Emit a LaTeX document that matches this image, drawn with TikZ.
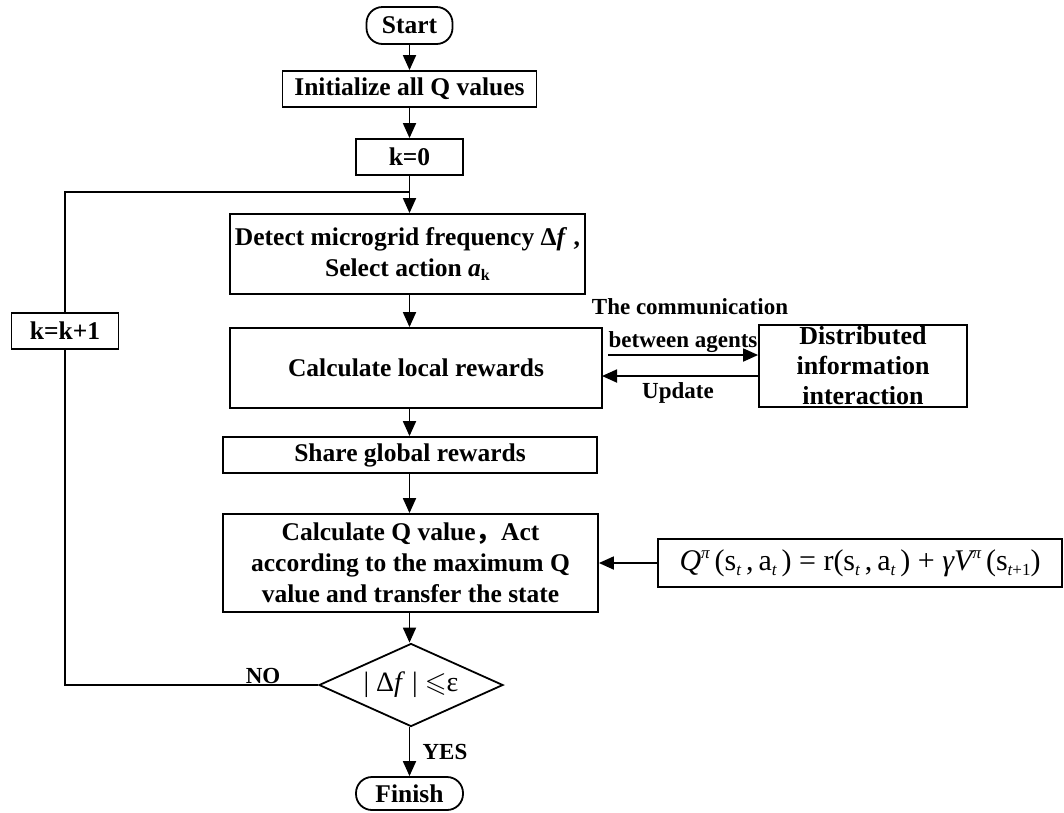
\documentclass[tikz,border=0pt]{standalone}
\usepackage{fontspec}
\usepackage{amssymb}
\setmainfont{Liberation Serif}
\newfontfamily\cjk{Noto Sans CJK SC}
\usetikzlibrary{arrows.meta,shapes.geometric,calc}

% text sizes
\newcommand\bigtxt{\fontsize{25.5}{31}\selectfont\bfseries}
\newcommand\lbltxt{\fontsize{23}{30}\selectfont\bfseries}
\newcommand\disttxt{\fontsize{26}{30}\selectfont\bfseries}
% small raised / lowered indices for the formula
\newcommand\fsub[1]{\raisebox{-0.35ex}{\fontsize{17}{17}\selectfont\itshape #1}}
\newcommand\fsup[1]{\raisebox{0.85ex}{\fontsize{17}{17}\selectfont\itshape #1}}
\newcommand\bsub[1]{\raisebox{-0.35ex}{\fontsize{16}{16}\selectfont\bfseries #1}}

\begin{document}
\begin{tikzpicture}[x=1pt,y=-1pt,
  line width=1.8pt,
  every node/.style={inner sep=0pt, align=center},
  box/.style={draw, rectangle, font=\bigtxt},
  term/.style={draw, rectangle, rounded corners=16pt, font=\bigtxt},
  decision/.style={draw, diamond, aspect=2.2, font=\fontsize{28}{28}\selectfont},
  arr/.style={-{Triangle[length=15pt,width=13pt]}},
  lbl/.style={font=\lbltxt}
]
\useasboundingbox (0,0) rectangle (1064,812);

% main column
\node[term, minimum width=86pt, minimum height=37pt] (start) at (409.5,25.5) {Start};
\node[box, minimum width=254pt, minimum height=36pt] (init) at (409.5,89) {Initialize all Q values};
\node[box, minimum width=107pt, minimum height=36pt] (k0) at (409.5,157) {k=0};
\node[box, minimum width=355pt, minimum height=80pt] (detect) at (407.5,254)
  {Detect microgrid frequency Δ\textit{f} ,\\Select action \textit{a}\bsub{k}};
\node[box, minimum width=372pt, minimum height=80pt] (local) at (416,368) {Calculate local rewards};
\node[box, minimum width=374pt, minimum height=36pt] (share) at (410,455) {Share global rewards};
\node[box, minimum width=375pt, minimum height=98pt] (calcq) at (410.5,563)
  {Calculate Q value{\cjk ，}Act\\according to the maximum Q\\value and transfer the state};
\node[decision, minimum width=184pt, minimum height=83pt] (dec) at (411,685)
  {| Δ\textit{f} | $\leqslant$ε};
\node[term, minimum width=107pt, minimum height=33pt] (finish) at (409.5,793.5) {Finish};

% side elements
\node[box, minimum width=107pt, minimum height=36pt] (kk) at (65,331) {k=k+1};
\node[draw, rectangle, minimum width=208pt, minimum height=82pt,
  label={[font=\disttxt, align=center]center:Distributed\\information\\interaction}] (dist) at (863,366) {};
\node[draw, rectangle, minimum width=404pt, minimum height=48pt, font=\fontsize{30}{30}\selectfont] (formula) at (860,563)
  {{\itshape Q}\fsup{π}\,(s\fsub{t}\,,\,a\fsub{t}\,) = r(s\fsub{t}\,,\,a\fsub{t}\,) + {\itshape γV}\fsup{π}\,(s\fsub{t{\upshape +1}})};

% labels
\node[lbl] (comm1) at (690,307) {The communication};
\node[lbl] (comm2) at (683,342) {between agents};
\node[lbl] (upd) at (678,393) {Update};
\node[lbl] (no) at (263,676) {NO};
\node[lbl] (yes) at (445,752) {YES};

% main flow
\coordinate (join) at (409.5,192);
\draw[arr] (start.south) -- (init.north);
\draw[arr] (init.south) -- (k0.north);
\draw[arr] (k0.south) -- (k0.south |- detect.north);
\draw[arr] (detect.south -| join) -- (join |- local.north);
\draw[arr] (local.south -| join) -- (join |- share.north);
\draw[arr] (share.south -| join) -- (join |- calcq.north);
\draw[arr] (calcq.south -| join) -- (join |- dec.north);
\draw[arr] (dec.south -| join) -- (finish.north);

% loop back
\draw (dec.west) -- (dec.west -| kk.south) -- (kk.south);
\draw (kk.north) -- (kk.north |- join) -- (join);

% agent communication
\coordinate (tx) at (608,355);
\coordinate (rx) at (602,376);
\draw[arr] (tx) -- (tx -| dist.west);
\draw[arr] (rx -| dist.west) -- (rx);

% formula feed
\draw[arr] (formula.west) -- (calcq.east);
\end{tikzpicture}
\end{document}
